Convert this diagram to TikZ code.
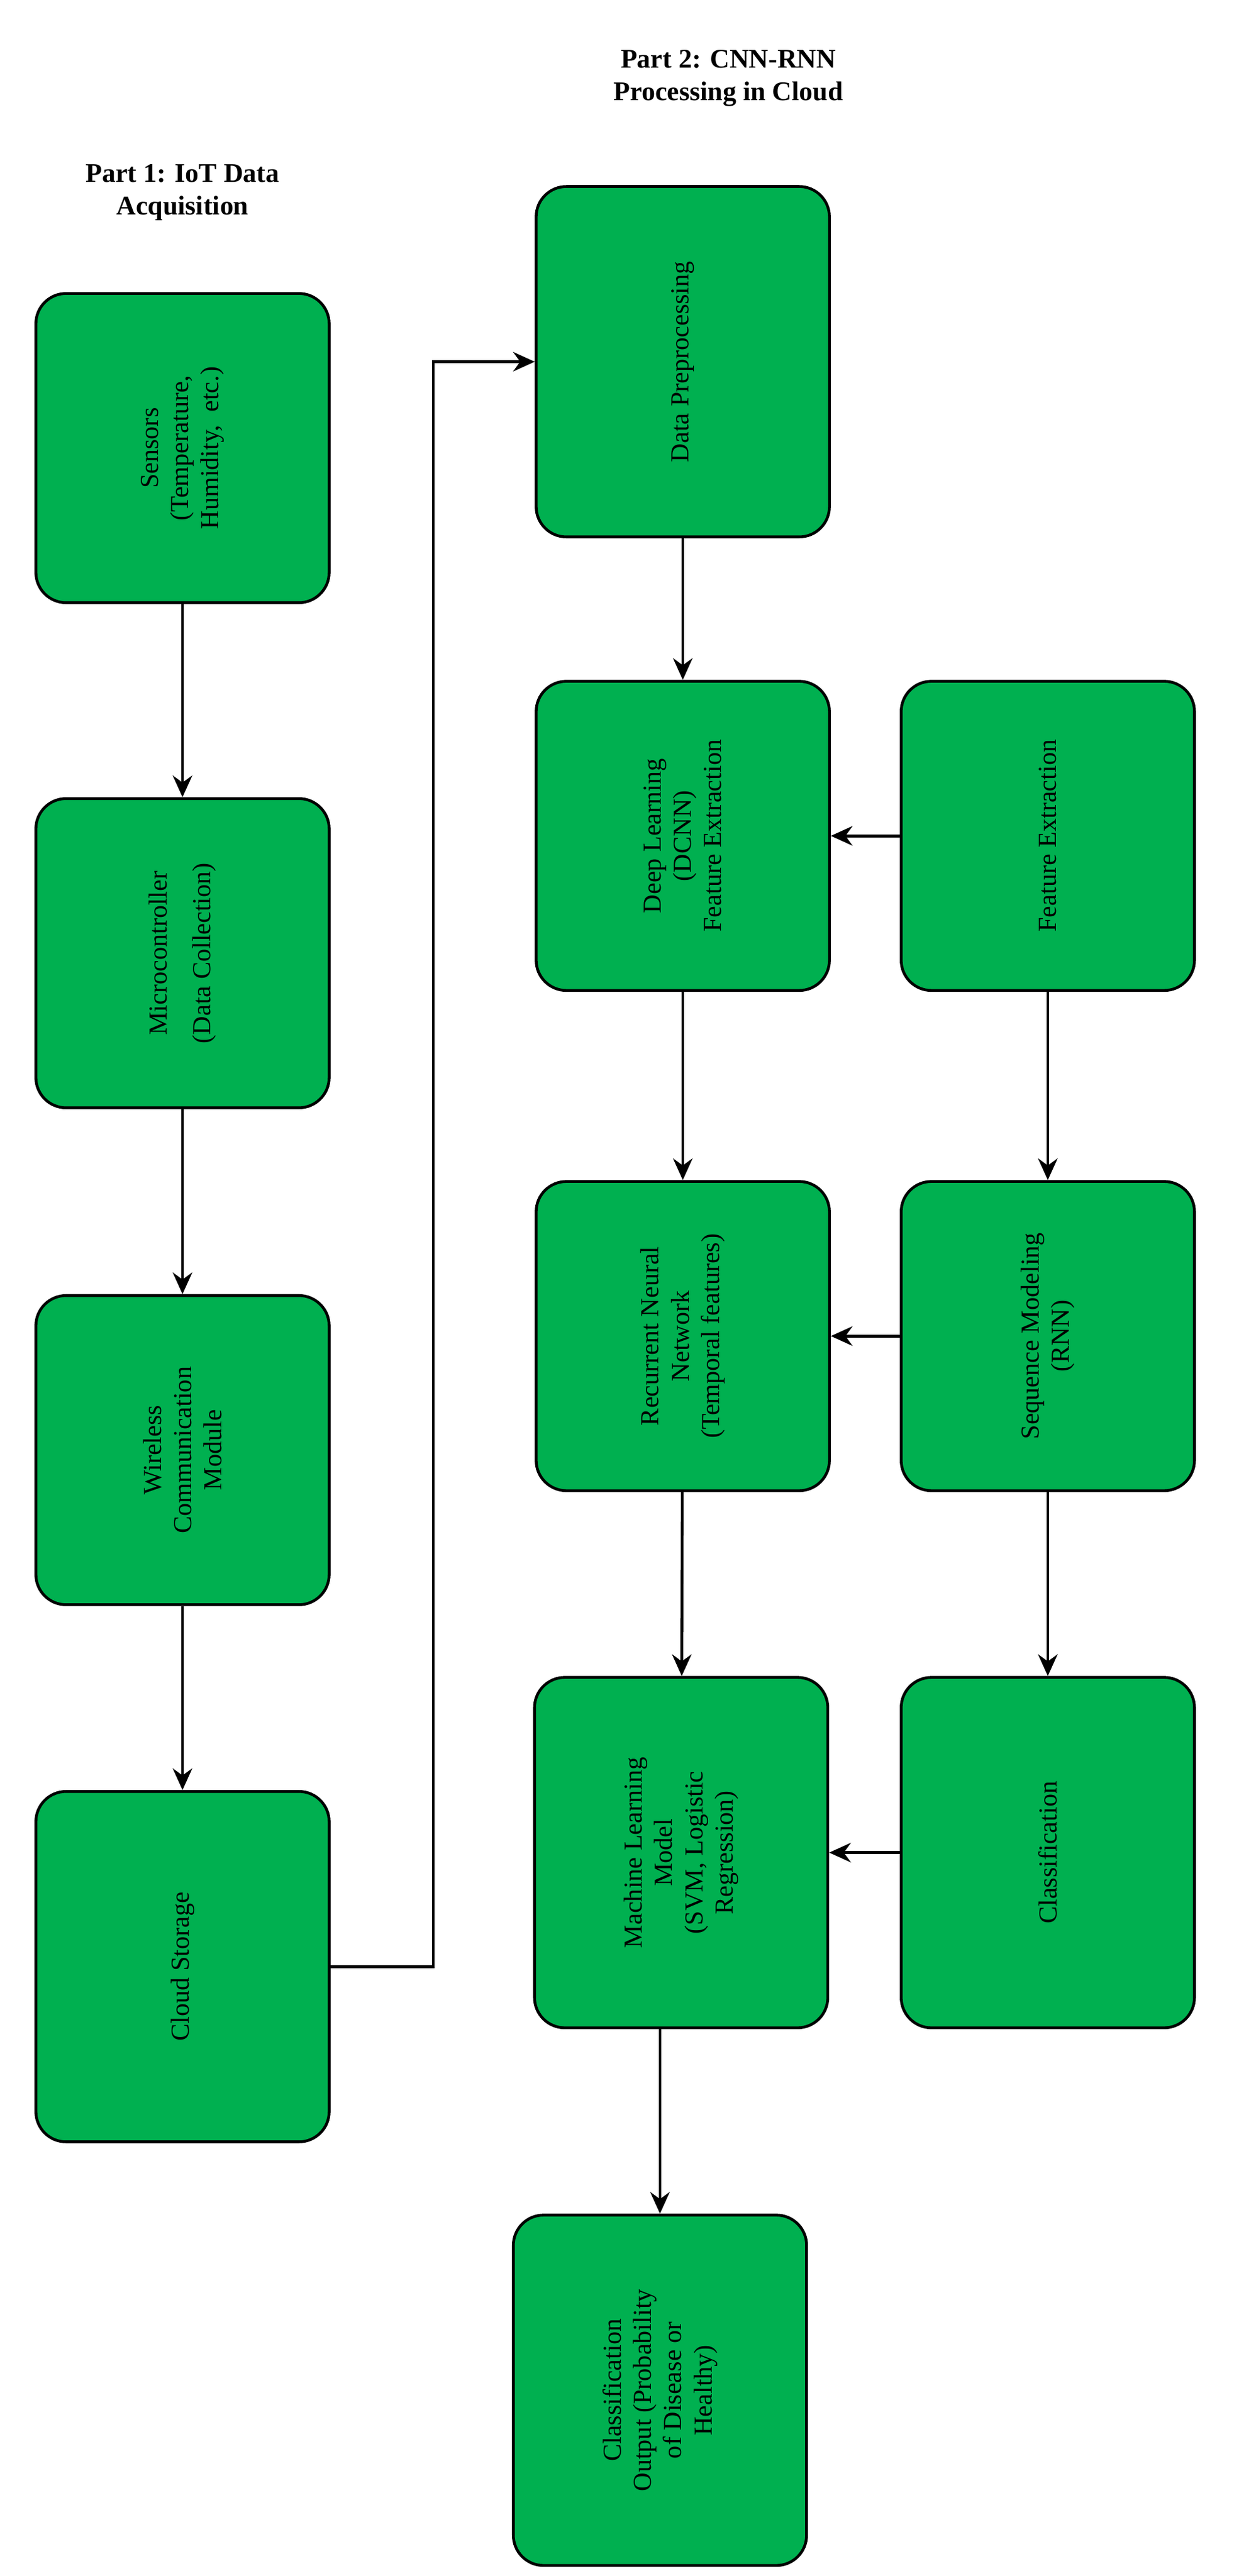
\documentclass[tikz,border=0pt]{standalone}
\usepackage{fontspec}
\setmainfont{Liberation Serif}
\usepackage{tikz}
\usetikzlibrary{arrows.meta}
\definecolor{boxgreen}{HTML}{00B050}
\begin{document}
\begin{tikzpicture}[x=0.0265cm,y=-0.0265cm,
    >={Stealth[black,length=10pt,width=9pt]},
    box/.style={draw=black,line width=1.3pt,fill=boxgreen,rounded corners=14pt,
      rotate=90,align=center,font=\fontsize{12}{14}\selectfont,
      minimum height=4.77cm,inner sep=2pt},
    arr/.style={->,line width=1.3pt},
    head/.style={font=\fontsize{12.5}{15}\selectfont\bfseries,align=center}]
  \useasboundingbox (0,0) rectangle (760,1581);

  \node[head] (h1) at (112,118) {Part 1: IoT Data\\Acquisition};
  \node[head] (h2) at (447,48) {Part 2: CNN-RNN\\Processing in Cloud};

  % part 1
  \node[box,minimum width=5.03cm] (sens) at (112,275) {Sensors\\(Temperature,\\Humidity,\ \ etc.)};
  \node[box,minimum width=5.03cm] (micro) at (112,585) {Microcontroller\\[6pt](Data Collection)};
  \node[box,minimum width=5.03cm] (wire) at (112,890) {Wireless\\Communication\\Module};
  \node[box,minimum width=5.70cm] (store) at (112,1207) {Cloud Storage};

  % part 2
  \node[box,minimum width=5.70cm] (prep) at (419,222) {Data Preprocessing};
  \node[box,minimum width=5.03cm] (dcnn) at (419,513) {Deep Learning\\(DCNN)\\Feature Extraction};
  \node[box,minimum width=5.03cm] (rnn) at (419,820) {Recurrent Neural\\Network\\(Temporal features)};
  \node[box,minimum width=5.70cm] (ml) at (418,1137) {Machine Learning\\Model\\(SVM, Logistic\\Regression)};
  \node[box,minimum width=5.70cm] (out) at (405,1467) {Classification\\Output (Probability\\of Disease or\\Healthy)};
  \node[box,minimum width=5.03cm] (feat) at (643,513) {Feature Extraction};
  \node[box,minimum width=5.03cm] (seq) at (643,820) {Sequence Modeling\\(RNN)};
  \node[box,minimum width=5.70cm] (cls) at (643,1137) {Classification};

  \draw[arr] (sens) -- (micro);
  \draw[arr] (micro) -- (wire);
  \draw[arr] (wire) -- (store);
  \draw[arr] (store.south) -- ++(63,0) |- (prep.north);
  \draw[arr] (prep) -- (dcnn);
  \draw[arr] (dcnn) -- (rnn);
  \draw[arr] (rnn) -- (ml);
  \draw[arr] (out.east |- ml.west) -- (out.east);
  \draw[arr] (feat) -- (dcnn);
  \draw[arr] (feat) -- (seq);
  \draw[arr] (seq) -- (rnn);
  \draw[arr] (seq) -- (cls);
  \draw[arr] (cls) -- (ml);
\end{tikzpicture}
\end{document}
